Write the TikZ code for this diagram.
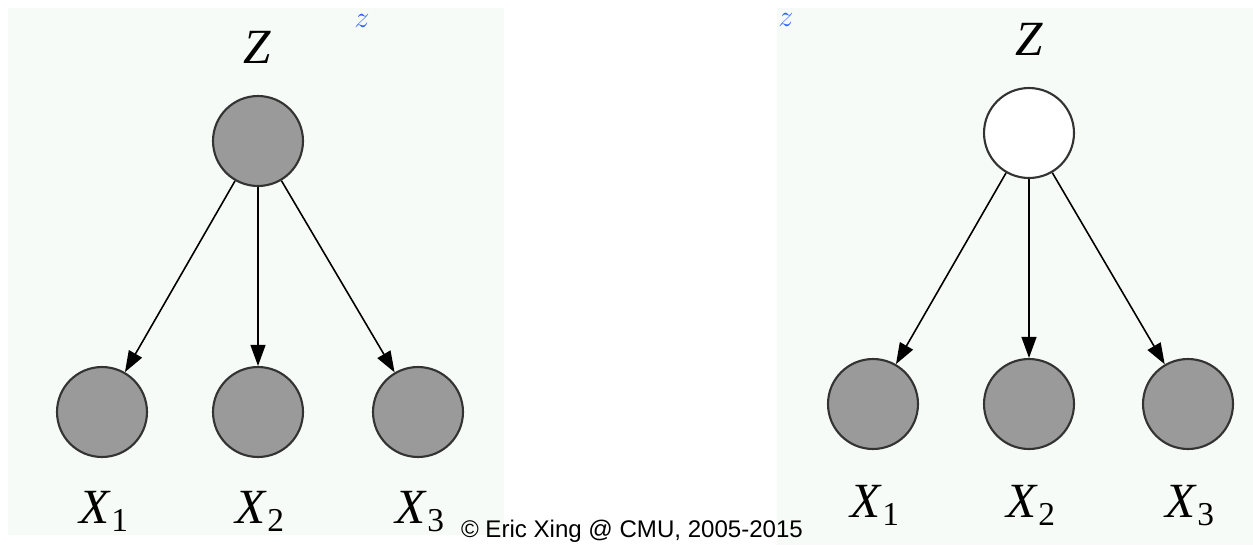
\documentclass[tikz,border=0pt]{standalone}
\usepackage{fontspec}
\setmainfont{Liberation Serif}
\newfontfamily\arialfont{Liberation Sans}
\usetikzlibrary{arrows.meta,positioning}

\definecolor{panelbg}{RGB}{247,251,247}
\definecolor{nodegray}{RGB}{154,154,154}
\definecolor{zblue}{RGB}{51,102,255}

\newcommand{\xlab}[1]{\textit{X}\raisebox{-5pt}{\fontsize{19}{19}\selectfont #1}}

\begin{document}
\begin{tikzpicture}[
    x=0.02cm, y=-0.02cm,
    obs/.style={
      circle, draw=black!80, line width=1.2pt,
      fill=nodegray,
      minimum size=1.8cm, inner sep=0pt
    },
    hid/.style={
      circle, draw=black!80, line width=1.2pt,
      fill=white,
      minimum size=1.8cm, inner sep=0pt
    },
    lbl/.style={anchor=base, inner sep=0pt, font=\fontsize{28}{28}\selectfont},
    tag/.style={anchor=base, inner sep=0pt, text=zblue, font=\fontsize{19}{19}\selectfont},
    arr/.style={-{Triangle[length=12pt,width=8.5pt]}, line width=0.9pt, draw=black}
  ]

  \useasboundingbox (0,0) rectangle (1253,545);

  % Panels
  \fill[panelbg] (8,8) rectangle (504,535);
  \fill[panelbg] (777,8) rectangle (1253,545);

  % Left graph: Z observed
  \node[obs] (Zl) at (258,141) {};
  \node[obs] (Xl1) at (102,412) {};
  \node[obs] (Xl2) at (258,412) {};
  \node[obs] (Xl3) at (418,412) {};

  \node[lbl] (ZlL) at (257,63) {\textit{Z}};
  \node[lbl] (Xl1L) at (104,523) {\xlab{1}};
  \node[lbl] (Xl2L) at (260,523) {\xlab{2}};
  \node[lbl] (Xl3L) at (420,523) {\xlab{3}};
  \node[tag] (zl) at (362,27) {$z$};

  \draw[arr] (Zl) -- (Xl1);
  \draw[arr] (Zl) -- (Xl2);
  \draw[arr] (Zl) -- (Xl3);

  % Right graph: Z hidden
  \node[hid] (Zr) at (1029,133) {};
  \node[obs] (Xr1) at (873,404) {};
  \node[obs] (Xr2) at (1029,404) {};
  \node[obs] (Xr3) at (1188,404) {};

  \node[lbl] (ZrL) at (1029,55) {\textit{Z}};
  \node[lbl] (Xr1L) at (875,517) {\xlab{1}};
  \node[lbl] (Xr2L) at (1031,517) {\xlab{2}};
  \node[lbl] (Xr3L) at (1190,517) {\xlab{3}};
  \node[tag] (zr) at (786,26) {$z$};

  \draw[arr] (Zr) -- (Xr1);
  \draw[arr] (Zr) -- (Xr2);
  \draw[arr] (Zr) -- (Xr3);

  % Footer
  \node[anchor=base, inner sep=0pt, font=\arialfont\fontsize{13.7}{13.7}\selectfont] (copy) at (632,537) {© Eric Xing @ CMU, 2005-2015};

\end{tikzpicture}
\end{document}
